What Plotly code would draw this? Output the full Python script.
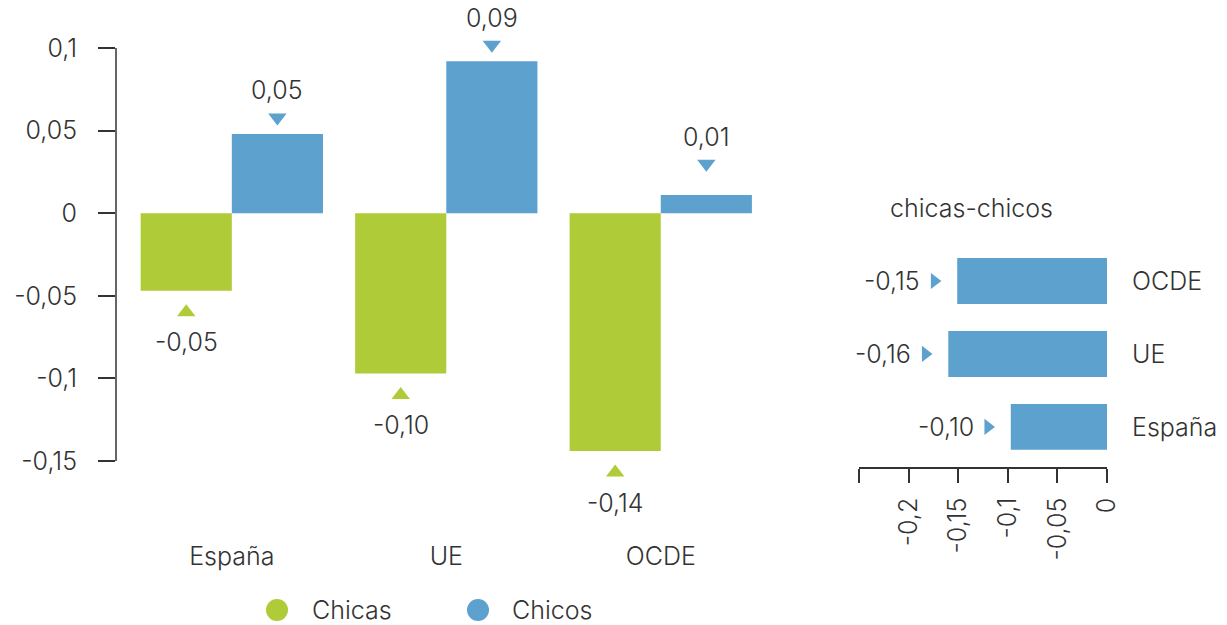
import plotly.graph_objects as go

categories = ["España", "UE", "OCDE"]
chicas = [-0.047, -0.097, -0.144]
chicos = [0.048, 0.092, 0.011]

diff_categories = ["España", "UE", "OCDE"]
diff_values = [-0.097, -0.160, -0.151]

y_ticks = [0.1, 0.05, 0, -0.05, -0.1, -0.15]
y_ticktext = ["0,1", "0,05", "0", "-0,05", "-0,1", "-0,15"]
x2_ticks = [-0.25, -0.2, -0.15, -0.1, -0.05, 0]
x2_ticktext = ["", "-0,2", "-0,15", "-0,1", "-0,05", "0"]
legend_names = ["Chicas", "Chicos"]

GREEN = "#AFCB37"
BLUE = "#5DA1CF"
TXT = "#333333"
AX = "#333333"
FONT = "Inter"
FS = 25

W, H = 1227, 625

def px(x):  # reference page x -> paper fraction
    return x / W

def py(y):  # reference page y -> paper fraction
    return 1 - y / H

def fmt(v):
    return f"{v:.2f}".replace(".", ",")

def font(size=FS):
    return dict(size=size, color=TXT, family=FONT, weight=300)

BW = 0.425
idx = list(range(len(categories)))

# main y axis geometry: 0.1 -> px 48, -0.15 -> px 461
PPU = (461 - 48) / 0.25
Y_LO, Y_HI = -0.205, 0.12
y_top_px = 48 - (Y_HI - 0.1) * PPU
y_bot_px = 461 + (-0.15 - Y_LO) * PPU

fig = go.Figure()
fig.add_trace(go.Bar(x=idx, y=chicas, width=BW, offset=-BW, marker_color=GREEN,
                     marker_line_width=0, showlegend=False, name=legend_names[0]))
fig.add_trace(go.Bar(x=idx, y=chicos, width=BW, offset=0, marker_color=BLUE,
                     marker_line_width=0, showlegend=False, name=legend_names[1]))

m_chicas = [v - 0.013 for v in chicas]
m_chicos = [max(v, 0.02) + 0.01 for v in chicos]
x_chicas = [i - BW / 2 for i in idx]
x_chicos = [i + BW / 2 for i in idx]
fig.add_trace(go.Scatter(x=x_chicas, y=m_chicas, mode="markers",
                         marker=dict(symbol="triangle-up", size=16, color=GREEN),
                         showlegend=False, cliponaxis=False))
fig.add_trace(go.Scatter(x=x_chicos, y=m_chicos, mode="markers",
                         marker=dict(symbol="triangle-down", size=16, color=BLUE),
                         showlegend=False, cliponaxis=False))

annotations = []
for x, y, v in zip(x_chicas, m_chicas, chicas):
    annotations.append(dict(x=x, y=y, xref="x", yref="y", text=fmt(v), showarrow=False,
                            yshift=-30, font=font()))
for x, y, v in zip(x_chicos, m_chicos, chicos):
    annotations.append(dict(x=x, y=y, xref="x", yref="y", text=fmt(v), showarrow=False,
                            yshift=27, font=font()))

# right chart
fig.add_trace(go.Bar(x=diff_values, y=diff_categories, orientation="h", width=0.63,
                     marker_color=BLUE, marker_line_width=0, showlegend=False,
                     xaxis="x2", yaxis="y2"))
m_diff = [v - 0.023 for v in diff_values]
fig.add_trace(go.Scatter(x=m_diff, y=diff_categories, mode="markers",
                         marker=dict(symbol="triangle-right", size=14, color=BLUE),
                         showlegend=False, xaxis="x2", yaxis="y2", cliponaxis=False))
for x, c, v in zip(m_diff, diff_categories, diff_values):
    annotations.append(dict(x=x, y=c, xref="x2", yref="y2", text=fmt(v), showarrow=False,
                            xanchor="right", xshift=-12, font=font()))
annotations.append(dict(x=px(888), y=py(208), xref="paper", yref="paper",
                        text="chicas-chicos", showarrow=False, xanchor="left",
                        yanchor="middle", font=font()))

# legend drawn as circles + text
shapes = []
for cx, col, name, tx in [(277, GREEN, legend_names[0], 310), (478, BLUE, legend_names[1], 510)]:
    shapes.append(dict(type="circle", xref="paper", yref="paper",
                       x0=px(cx - 11), x1=px(cx + 11), y0=py(610 + 11), y1=py(610 - 11),
                       fillcolor=col, line=dict(width=0)))
    annotations.append(dict(x=px(tx), y=py(610), xref="paper", yref="paper", text=name,
                            showarrow=False, xanchor="left", yanchor="middle", font=font()))

# main y axis line only between -0.15 and 0.1
shapes.append(dict(type="line", xref="paper", yref="y", x0=px(116), x1=px(116),
                   y0=-0.15, y1=0.1, line=dict(color=AX, width=1.5)))

fig.update_layout(
    width=W, height=H,
    margin=dict(l=0, r=0, t=0, b=0),
    paper_bgcolor="white", plot_bgcolor="rgba(0,0,0,0)",
    font=font(),
    barmode="overlay",
    showlegend=False,
    xaxis=dict(domain=[px(116), px(768)], range=[-0.54, 2.5], tickvals=idx, ticktext=categories,
               anchor="free", position=py(539),
               showline=False, showgrid=False, zeroline=False, ticks="",
               tickfont=font(), automargin=False),
    yaxis=dict(domain=[py(y_bot_px), py(y_top_px)], range=[Y_LO, Y_HI],
               tickvals=y_ticks, ticktext=y_ticktext, showline=False,
               ticks="outside", ticklen=17, tickwidth=1.5, tickcolor=AX,
               showgrid=False, zeroline=False, ticklabelstandoff=16, tickfont=font(),
               automargin=False),
    xaxis2=dict(domain=[px(859), px(1107)], range=[-0.25, 0], tickvals=x2_ticks,
                ticktext=x2_ticktext, anchor="y2", showline=True, linecolor=AX,
                linewidth=1.5, ticks="outside", ticklen=14, tickwidth=1.5, tickcolor=AX,
                tickangle=-90, showgrid=False, zeroline=False, tickfont=font(),
                ticklabelstandoff=5, automargin=False),
    yaxis2=dict(domain=[py(467), py(244.5)], range=[-0.55, 2.5], anchor="x2",
                side="right", showline=False, ticks="", showgrid=False, zeroline=False,
                ticklabelstandoff=24, tickfont=font(), automargin=False),
    shapes=shapes,
    annotations=annotations,
)

fig.write_html("out.html", config={"displayModeBar": False},
               post_script="document.body.style.margin='0';document.body.style.overflow='hidden';")
